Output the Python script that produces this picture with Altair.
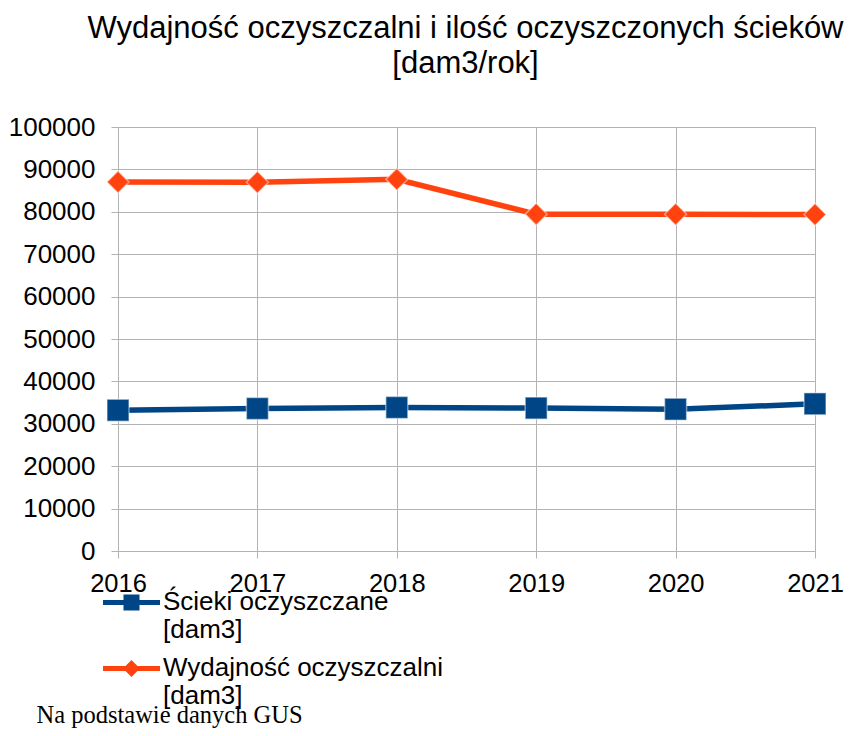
import altair as alt
import pandas as pd

years = ["2016", "2017", "2018", "2019", "2020", "2021"]
scieki = [33200, 33600, 33850, 33700, 33450, 34700]
wydajnosc = [87050, 86950, 87650, 79450, 79400, 79380]
series_names = ["Ścieki oczyszczane [dam3]", "Wydajność oczyszczalni [dam3]"]
colors = ["#004586", "#ff420e"]
y_ticks = [0, 10000, 20000, 30000, 40000, 50000, 60000, 70000, 80000, 90000, 100000]
title_lines = ["Wydajność oczyszczalni i ilość oczyszczonych ścieków", "[dam3/rok]"]
footnote = "Na podstawie danych GUS"

rows = []
for i, yr in enumerate(years):
    rows.append({"rok": yr, "wartosc": scieki[i], "seria": series_names[0]})
    rows.append({"rok": yr, "wartosc": wydajnosc[i], "seria": series_names[1]})
df = pd.DataFrame(rows)

GRID = "#b3b3b3"
FONT = "Liberation Sans"

# legend symbols: a line segment with the marker on it (unit box -1..1)
leg_square = ("M-1,-0.333H1V-0.158H-1Z"
              "M-0.281,-0.526H0.281V0.035H-0.281Z")
leg_diamond = ("M-1,-0.333H1V-0.158H-1Z"
               "M0,-0.544L0.298,-0.246L0,0.053L-0.298,-0.246Z")

x_enc = alt.X(
    "rok:O",
    scale=alt.Scale(type="point", padding=0, domain=years),
    axis=alt.Axis(
        labelAngle=0, labelFont=FONT, labelFontSize=25.5, labelColor="black",
        labelPadding=13, tickSize=7, tickColor=GRID, domainColor=GRID,
        gridColor=GRID, grid=True, labelFlush=False,
        title=footnote, titleFont="Liberation Serif", titleFontSize=24.5,
        titleFontWeight="normal", titleColor="black", titleAlign="left",
        titleBaseline="alphabetic", titleX=-82, titleY=171, titleAngle=0,
    ),
)
y_enc = alt.Y(
    "wartosc:Q",
    scale=alt.Scale(domain=[0, 100000], nice=False, zero=True),
    axis=alt.Axis(
        values=y_ticks, format="d", labelFont=FONT, labelFontSize=26,
        labelColor="black", labelPadding=16, tickSize=7, tickColor=GRID,
        domainColor=GRID, gridColor=GRID, title=None,
    ),
)

legend = alt.Legend(
    orient="none", legendX=-15, legendY=454, title=None, padding=0,
    symbolSize=3249, symbolStrokeWidth=0, symbolStrokeColor="transparent",
    labelFont=FONT, labelFontSize=26, labelColor="black", labelLimit=600,
    labelOffset=3, labelBaseline="alphabetic", rowPadding=4,
    labelExpr="[slice(datum.label, 0, indexof(datum.label, ' [')), slice(datum.label, indexof(datum.label, ' [') + 1)]",
)

color_scale = alt.Scale(domain=series_names, range=colors)

base = alt.Chart(df)

legend_layer = base.transform_filter("false").mark_point(filled=True, opacity=1).encode(
    x=x_enc, y=y_enc,
    fill=alt.Fill("seria:N", scale=color_scale, legend=legend),
    shape=alt.Shape("seria:N", scale=alt.Scale(domain=series_names, range=[leg_square, leg_diamond]),
                    legend=legend),
)

line = base.mark_line(strokeWidth=5.5).encode(
    x=x_enc, y=y_enc,
    stroke=alt.Stroke("seria:N", scale=color_scale, legend=legend),
)


def marker_layer(idx, shape):
    return base.transform_filter(
        alt.datum.seria == series_names[idx]
    ).mark_point(
        shape=shape, filled=True, size=484, opacity=1, stroke="white",
        strokeOpacity=0.45, strokeWidth=1.5,
    ).encode(
        x=x_enc, y=y_enc,
        fill=alt.Fill("seria:N", scale=color_scale, legend=legend),
    )


sq_points = marker_layer(0, "square")
di_points = marker_layer(1, "diamond")

chart = alt.layer(legend_layer, line, sq_points, di_points).properties(
    width=697, height=424,
    autosize=alt.AutoSizeParams(type="none"),
    padding={"left": 110, "top": 119, "right": 29, "bottom": 177},
    title=alt.TitleParams(
        text=title_lines, font=FONT, fontSize=31, fontWeight="normal",
        color="black", lineHeight=35, anchor="middle", offset=34, dx=-1,
    ),
).configure_view(stroke=None).configure(background="white")

chart.save("out.html", embed_options={"renderer": "svg", "actions": False})
